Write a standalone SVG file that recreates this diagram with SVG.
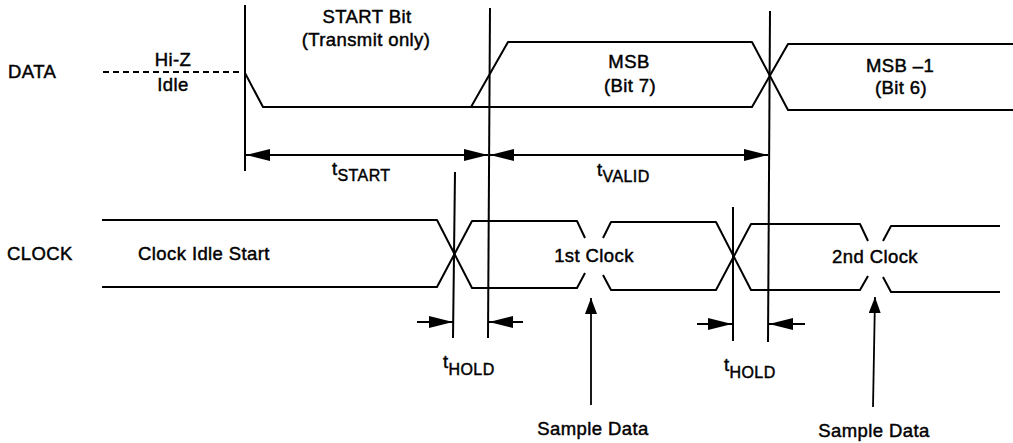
<svg xmlns="http://www.w3.org/2000/svg" width="1013" height="443" viewBox="0 0 1013 443">
  <style>
    .sig { fill: none; stroke: #000; stroke-width: 2; stroke-linejoin: round; }
    .ref { fill: none; stroke: #000; stroke-width: 2; }
    .dim { fill: none; stroke: #000; stroke-width: 1.8; }
    .lbl { font-family: "Liberation Sans", Arial, sans-serif; font-size: 18.5px; letter-spacing: 0.4px; fill: #000; stroke: #000; stroke-width: 0.45; }
    .sub { font-size: 16px; }
    .mid { text-anchor: middle; }
  </style>
  <defs>
    <marker id="headDim" viewBox="0 0 24 12" refX="24" refY="6" markerWidth="24" markerHeight="12" markerUnits="userSpaceOnUse" orient="auto-start-reverse">
      <path d="M0 0 L24 6 L0 12 Z" fill="#000"/>
    </marker>
    <marker id="headUp" viewBox="0 0 16 12" refX="16" refY="6" markerWidth="16" markerHeight="12" markerUnits="userSpaceOnUse" orient="auto">
      <path d="M0 0 L16 6 L0 12 Z" fill="#000"/>
    </marker>
  </defs>

  <rect width="1013" height="443" fill="#fff"/>

  <!-- signal names -->
  <g id="signal-names">
    <text class="lbl" x="8" y="78">DATA</text>
    <text class="lbl" x="7" y="260">CLOCK</text>
  </g>

  <!-- DATA waveform -->
  <g id="data-line">
    <path class="sig" d="M103 72 H243" stroke-dasharray="6 4"/>
    <path class="sig" d="M245 73 L263 107 H752 L788 44 H1013"/>
    <path class="sig" d="M471 107 L508 42 H752 L788 110 H1013"/>
    <text class="lbl mid" x="173" y="66">Hi-Z</text>
    <text class="lbl mid" x="173" y="91">Idle</text>
    <text class="lbl mid" x="367" y="23">START Bit</text>
    <text class="lbl mid" x="366" y="46">(Transmit only)</text>
    <text class="lbl mid" x="629" y="68">MSB</text>
    <text class="lbl mid" x="630" y="92">(Bit 7)</text>
    <text class="lbl mid" x="900" y="72">MSB –1</text>
    <text class="lbl mid" x="901" y="94">(Bit 6)</text>
  </g>

  <!-- CLOCK waveform -->
  <g id="clock-line">
    <path class="sig" d="M102 220 H437 L472 288 H577 L585 273"/>
    <path class="sig" d="M102 287 H437 L472 221 H577 L585 238"/>
    <path class="sig" d="M603 238 L611 222 H716 L751 290 H860 L868 276"/>
    <path class="sig" d="M603 275 L611 290 H716 L751 224 H860 L868 241"/>
    <path class="sig" d="M883 241 L891 226 H1000"/>
    <path class="sig" d="M883 277 L891 292 H1000"/>
    <text class="lbl mid" x="204" y="260">Clock Idle Start</text>
    <text class="lbl mid" x="594" y="262">1st Clock</text>
    <text class="lbl mid" x="875" y="263">2nd Clock</text>
  </g>

  <!-- reference edges -->
  <g id="reference-lines">
    <path class="ref" d="M245 5 V171"/>
    <path class="ref" d="M490 8 L488 338"/>
    <path class="ref" d="M770 11 L768 342"/>
    <path class="ref" d="M455 172 L453 338"/>
    <path class="ref" d="M733 207 V341"/>
  </g>

  <!-- timing dimensions -->
  <g id="connectors">
    <path class="dim" d="M246 155 H488" marker-start="url(#headDim)" marker-end="url(#headDim)"/>
    <path class="dim" d="M490 155 H768" marker-start="url(#headDim)" marker-end="url(#headDim)"/>
    <path class="dim" d="M417 322 H453" marker-end="url(#headDim)"/>
    <path class="dim" d="M523 322 H489" marker-end="url(#headDim)"/>
    <path class="dim" d="M697 324 H732" marker-end="url(#headDim)"/>
    <path class="dim" d="M805 324 H769" marker-end="url(#headDim)"/>
    <path class="dim" d="M591 405 V298" marker-end="url(#headUp)"/>
    <path class="dim" d="M873 407 L875 297" marker-end="url(#headUp)"/>
  </g>

  <!-- timing labels -->
  <g id="timing-labels">
    <text class="lbl" x="332" y="175">t<tspan class="sub" dy="6">START</tspan></text>
    <text class="lbl" x="597" y="176">t<tspan class="sub" dy="6">VALID</tspan></text>
    <text class="lbl" x="443" y="368">t<tspan class="sub" dy="7">HOLD</tspan></text>
    <text class="lbl" x="724" y="371">t<tspan class="sub" dy="7">HOLD</tspan></text>
    <text class="lbl mid" x="593" y="435">Sample Data</text>
    <text class="lbl mid" x="874" y="437">Sample Data</text>
  </g>
</svg>
